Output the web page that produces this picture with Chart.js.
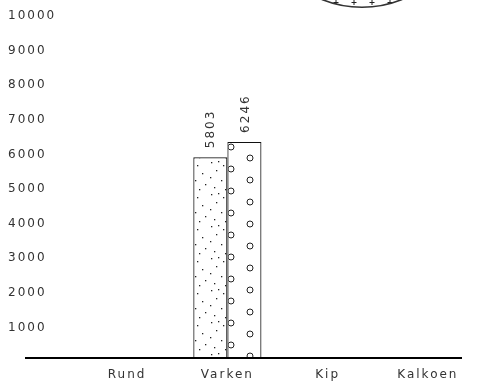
<!DOCTYPE html>
<html>
<head>
<meta charset="utf-8">
<script src="https://cdn.jsdelivr.net/npm/chart.js@4"></script>
<style>
  html, body { margin: 0; padding: 0; background: #fff; overflow: hidden; }
  #wrap { position: relative; width: 479px; height: 385px; overflow: hidden; }
  #barChart { position: absolute; left: 0; top: 0; }
  #pieBox { position: absolute; left: 254px; top: -208px; width: 216px; height: 216px; }
</style>
</head>
<body>
<div id="wrap">
  <canvas id="barChart" width="479" height="385"></canvas>
  <div id="pieBox"><canvas id="pieChart" width="216" height="216"></canvas></div>
</div>
<script>
// --- DATA ---
const categories = ['Rund', 'Varken', 'Kip', 'Kalkoen'];
const seriesA = [null, 5803, null, null];
const seriesB = [null, 6246, null, null];
const yTicks = [1000, 2000, 3000, 4000, 5000, 6000, 7000, 8000, 9000, 10000];
const pieLabels = ['Totaal'];
const pieValues = [1];

const FONT = '"DejaVu Sans", sans-serif';
const TEXT = '#333';

// --- PATTERNS ---
function makeTile(w, h, draw) {
  const c = document.createElement('canvas');
  c.width = w; c.height = h;
  const g = c.getContext('2d');
  g.fillStyle = '#fff';
  g.fillRect(0, 0, w, h);
  draw(g);
  return document.createElement('canvas').getContext('2d').createPattern(c, 'repeat');
}

const dotSpots = [[3, 2], [15, 5], [8, 10], [20, 13], [2, 17], [13, 20], [23, 24], [6, 27], [17, 29], [10, 1]];
const dotFill = makeTile(26, 32, g => {
  g.fillStyle = '#222';
  dotSpots.forEach(p => g.fillRect(p[0], p[1], 1.3, 1.3));
});

const ringFill = makeTile(38, 22, g => {
  g.strokeStyle = '#222';
  g.lineWidth = 1;
  [[3, 15], [22, 4]].forEach(p => {
    g.beginPath(); g.arc(p[0], p[1], 3, 0, Math.PI * 2); g.stroke();
  });
});

const plusFill = makeTile(18, 18, g => {
  g.strokeStyle = '#222';
  g.lineWidth = 1;
  g.beginPath();
  g.moveTo(7.5, 12.5); g.lineTo(12.5, 12.5);
  g.moveTo(10, 10); g.lineTo(10, 15);
  g.stroke();
});

// --- PLUGINS ---
const spacing = {
  id: 'spacing',
  beforeDraw(chart) { chart.ctx.letterSpacing = '2px'; }
};

// y labels drawn left-aligned at the canvas edge, slightly below each tick
const yLabels = {
  id: 'yLabels',
  afterDraw(chart) {
    const ctx = chart.ctx, y = chart.scales.y;
    ctx.save();
    ctx.font = '12px ' + FONT;
    ctx.fillStyle = TEXT;
    ctx.letterSpacing = '2px';
    ctx.textAlign = 'left';
    ctx.textBaseline = 'middle';
    yTicks.forEach(v => ctx.fillText(String(v), 8, y.getPixelForValue(v) + 4));
    ctx.restore();
  }
};

const baseLine = {
  id: 'baseLine',
  afterDatasetsDraw(chart) {
    const { ctx, chartArea } = chart;
    const y = chart.scales.y.getPixelForValue(0);
    ctx.save();
    ctx.strokeStyle = '#000';
    ctx.lineWidth = 2;
    ctx.beginPath();
    ctx.moveTo(chartArea.left - 52, y);
    ctx.lineTo(chartArea.right - 16, y);
    ctx.stroke();
    ctx.restore();
  }
};

const valueLabels = {
  id: 'valueLabels',
  afterDatasetsDraw(chart) {
    const ctx = chart.ctx;
    ctx.save();
    ctx.font = '12px ' + FONT;
    ctx.fillStyle = TEXT;
    ctx.letterSpacing = '2px';
    ctx.textAlign = 'left';
    ctx.textBaseline = 'middle';
    chart.data.datasets.forEach((ds, i) => {
      chart.getDatasetMeta(i).data.forEach((bar, j) => {
        const v = ds.data[j];
        if (v == null) return;
        ctx.save();
        ctx.translate(bar.x + 1, bar.y - 9);
        ctx.rotate(-Math.PI / 2);
        ctx.fillText(String(v), 0, 0);
        ctx.restore();
      });
    });
    ctx.restore();
  }
};

// --- BAR CHART ---
new Chart(document.getElementById('barChart'), {
  type: 'bar',
  data: {
    labels: categories,
    datasets: [
      { data: seriesA, backgroundColor: dotFill, borderColor: '#111', borderWidth: 1.2 },
      { data: seriesB, backgroundColor: ringFill, borderColor: '#111', borderWidth: 1.2 }
    ]
  },
  options: {
    responsive: false,
    animation: false,
    categoryPercentage: 0.68,
    barPercentage: 1,
    layout: { padding: { left: 8, right: 1, top: 12, bottom: 0 } },
    plugins: { legend: { display: false }, tooltip: { enabled: false } },
    scales: {
      x: {
        grid: { display: false, drawTicks: false },
        border: { display: false },
        afterFit: s => { s.height = 27; },
        ticks: { color: TEXT, padding: 10, font: { family: FONT, size: 12 } }
      },
      y: {
        min: 0,
        max: 10000,
        afterBuildTicks: s => { s.ticks = yTicks.map(v => ({ value: v })); },
        afterFit: s => { s.width = 69; },
        grid: { display: false },
        border: { display: false },
        ticks: { display: false }
      }
    }
  },
  plugins: [spacing, baseLine, valueLabels, yLabels]
});

// --- PIE (top right, mostly off-canvas) ---
new Chart(document.getElementById('pieChart'), {
  type: 'pie',
  data: {
    labels: pieLabels,
    datasets: [{ data: pieValues, backgroundColor: plusFill, borderColor: '#333', borderWidth: 1.5 }]
  },
  options: {
    responsive: false,
    animation: false,
    layout: { padding: 0 },
    plugins: { legend: { display: false }, tooltip: { enabled: false } }
  }
});
</script>
</body>
</html>
